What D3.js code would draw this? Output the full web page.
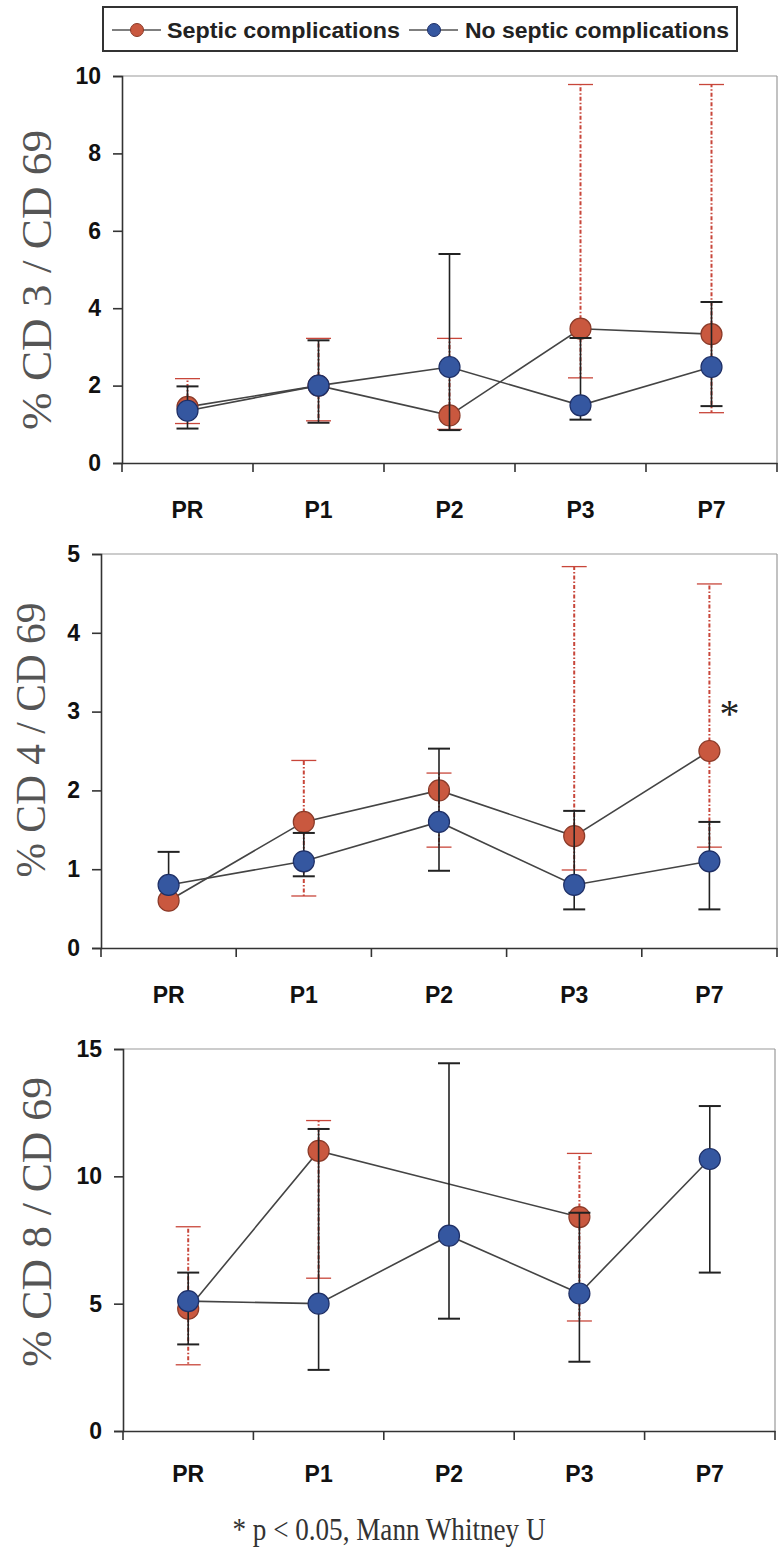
<!DOCTYPE html>
<html>
<head>
<meta charset="utf-8">
<script src="https://cdn.jsdelivr.net/npm/d3@7"></script>
<style>
  html, body { margin: 0; padding: 0; background: #ffffff; }
  svg { display: block; }
</style>
</head>
<body>
<script>
// ---------------- DATA ----------------
const categories = ["PR", "P1", "P2", "P3", "P7"];
const seriesNames = ["Septic complications", "No septic complications"];

// Panel 1: % CD 3 / CD 69
const cd3Ticks = [0, 2, 4, 6, 8, 10];
const cd3Septic     = [1.45, 2.0, 1.23, 3.47, 3.33];
const cd3SepticLow  = [1.02, 1.09, 0.87, 2.2, 1.3];
const cd3SepticHigh = [2.18, 3.22, 3.22, 9.78, 9.78];
const cd3None       = [1.35, 2.0, 2.48, 1.49, 2.48];
const cd3NoneLow    = [0.89, 1.04, 0.85, 1.12, 1.47];
const cd3NoneHigh   = [1.98, 3.17, 5.4, 3.23, 4.16];

// Panel 2: % CD 4 / CD 69
const cd4Ticks = [0, 1, 2, 3, 4, 5];
const cd4Septic     = [0.6, 1.6, 2.0, 1.42, 2.5];
const cd4SepticLow  = [null, 0.66, 1.28, 0.99, 1.28];
const cd4SepticHigh = [null, 2.38, 2.22, 4.84, 4.62];
const cd4None       = [0.8, 1.1, 1.6, 0.8, 1.1];
const cd4NoneLow    = [null, 0.91, 0.98, 0.49, 0.49];
const cd4NoneHigh   = [1.22, 1.46, 2.53, 1.74, 1.6];

// Panel 3: % CD 8 / CD 69
const cd8Ticks = [0, 5, 10, 15];
const cd8Septic     = [4.8, 11.0, null, 8.4, null];
const cd8SepticLow  = [2.6, 6.0, null, 4.32, null];
const cd8SepticHigh = [8.02, 12.19, null, 10.9, null];
const cd8None       = [5.1, 5.0, 7.67, 5.4, 10.68];
const cd8NoneLow    = [3.4, 2.4, 4.41, 2.72, 6.22];
const cd8NoneHigh   = [6.22, 11.86, 14.44, 8.57, 12.76];

const significance = ["", "", "", "", "*"]; // CD4 panel, P7
const footnote = "* p < 0.05, Mann Whitney U";

// ---------------- STYLE ----------------
const W = 778, H = 1547;
const red = "#c9583f", redStroke = "#8a3a28", redBar = "#c8463a";
const blue = "#3557a0", blueStroke = "#1e2f66", blackBar = "#222";
const lineCol = "#444";
const R = 10.5;

const svg = d3.select("body").append("svg")
  .attr("width", W).attr("height", H)
  .attr("viewBox", `0 0 ${W} ${H}`);

// ---------------- LEGEND ----------------
const leg = svg.append("g");
leg.append("rect").attr("x", 103).attr("y", 7).attr("width", 634).attr("height", 44)
  .attr("fill", "#fff").attr("stroke", "#333").attr("stroke-width", 2);
const legItems = [
  { name: seriesNames[0], fill: red, stroke: redStroke, cx: 137, tx: 167, tl: 233 },
  { name: seriesNames[1], fill: blue, stroke: blueStroke, cx: 434, tx: 465, tl: 264 }
];
legItems.forEach(it => {
  leg.append("line").attr("x1", it.cx - 25).attr("x2", it.cx + 24)
    .attr("y1", 30).attr("y2", 30).attr("stroke", "#555").attr("stroke-width", 1.5);
  leg.append("circle").attr("cx", it.cx).attr("cy", 30).attr("r", 6.5)
    .attr("fill", it.fill).attr("stroke", it.stroke).attr("stroke-width", 1);
  leg.append("text").attr("x", it.tx).attr("y", 38)
    .attr("font-family", "Liberation Sans, Arial, sans-serif")
    .attr("font-weight", "bold").attr("font-size", 22).attr("fill", "#222")
    .attr("textLength", it.tl).attr("lengthAdjust", "spacingAndGlyphs")
    .text(it.name);
});

// ---------------- PANELS ----------------
function panel(cfg) {
  const g = svg.append("g");
  const x = d3.scaleBand().domain(categories).range([cfg.x0, cfg.x1]).padding(0);
  const y = d3.scaleLinear().domain([0, cfg.ymax]).range([cfg.yb, cfg.yt]);
  const cx = c => x(c) + x.bandwidth() / 2;

  // frame (top and right)
  g.append("line").attr("x1", cfg.x0).attr("x2", cfg.x1).attr("y1", y(cfg.ymax)).attr("y2", y(cfg.ymax))
    .attr("stroke", "#999").attr("stroke-width", 1.2);
  g.append("line").attr("x1", cfg.x1).attr("x2", cfg.x1).attr("y1", y(cfg.ymax)).attr("y2", y(0))
    .attr("stroke", "#999").attr("stroke-width", 1.2);

  // y axis
  const ya = g.append("g").attr("transform", `translate(${cfg.x0},0)`)
    .call(d3.axisLeft(y).tickValues(cfg.ticks).tickSize(9).tickPadding(12).tickFormat(d3.format("d")));
  ya.select(".domain").attr("stroke", "#333").attr("stroke-width", 1.6);
  ya.selectAll(".tick line").attr("stroke", "#333").attr("stroke-width", 1.6);
  ya.selectAll("text").attr("font-family", "Liberation Sans, Arial, sans-serif")
    .attr("font-weight", "bold").attr("font-size", 23).attr("fill", "#111");

  // x axis: labels at centers
  const xa = g.append("g").attr("transform", `translate(0,${cfg.yb})`)
    .call(d3.axisBottom(x).tickSize(0).tickPadding(cfg.labelPad));
  xa.select(".domain").attr("stroke", "#333").attr("stroke-width", 1.6);
  xa.selectAll("text").attr("font-family", "Liberation Sans, Arial, sans-serif")
    .attr("font-weight", "bold").attr("font-size", 23).attr("fill", "#111");
  // boundary ticks
  const bounds = categories.map(c => x(c)).concat([cfg.x1]);
  g.selectAll(".btick").data(bounds).enter().append("line")
    .attr("x1", d => d).attr("x2", d => d)
    .attr("y1", cfg.yb).attr("y2", cfg.yb + 9)
    .attr("stroke", "#333").attr("stroke-width", 1.6);

  // y label
  g.append("text")
    .attr("transform", `translate(${cfg.lx},${cfg.ly}) rotate(-90)`)
    .attr("text-anchor", "middle").attr("dy", "0.35em")
    .attr("font-family", "Liberation Serif, Times New Roman, serif")
    .attr("font-size", 43).attr("fill", "#555")
    .attr("textLength", cfg.ll).attr("lengthAdjust", "spacingAndGlyphs")
    .text(cfg.label);

  const series = [
    { v: cfg.s, lo: cfg.sLo, hi: cfg.sHi, fill: red, stroke: redStroke, bar: redBar, dash: "4,2,1.5,2", cap: redBar, capW: 1.3, capHalf: 12.5, barW: 2 },
    { v: cfg.n, lo: cfg.nLo, hi: cfg.nHi, fill: blue, stroke: blueStroke, bar: blackBar, dash: null, cap: blackBar, capW: 2, capHalf: 11, barW: 1.6 }
  ];
  const line = d3.line().x(d => cx(d.c)).y(d => y(d.v));

  series.forEach(s => {
    const pts = categories.map((c, i) => ({ c, v: s.v[i], lo: s.lo[i], hi: s.hi[i] }));
    const valid = pts.filter(p => p.v !== null);
    // error bars
    valid.forEach(p => {
      const px = cx(p.c);
      [["hi", p.hi], ["lo", p.lo]].forEach(([k, e]) => {
        if (e === null || e === undefined) return;
        const l = g.append("line").attr("x1", px).attr("x2", px)
          .attr("y1", y(p.v)).attr("y2", y(e))
          .attr("stroke", s.bar).attr("stroke-width", s.barW);
        if (s.dash) l.attr("stroke-dasharray", s.dash);
        g.append("line").attr("x1", px - s.capHalf).attr("x2", px + s.capHalf)
          .attr("y1", y(e)).attr("y2", y(e))
          .attr("stroke", s.cap).attr("stroke-width", s.capW);
      });
    });
    // connecting line (skips missing points)
    g.append("path").datum(valid).attr("d", line)
      .attr("fill", "none").attr("stroke", lineCol).attr("stroke-width", 1.6);
    // markers
    g.selectAll(null).data(valid).enter().append("circle")
      .attr("cx", d => cx(d.c)).attr("cy", d => y(d.v)).attr("r", R)
      .attr("fill", s.fill).attr("stroke", s.stroke).attr("stroke-width", 1.2);
  });

  if (cfg.sig) {
    categories.forEach((c, i) => {
      if (!cfg.sig[i]) return;
      g.append("text").attr("x", cx(c) + 20).attr("y", y(cfg.s[i]) - 24)
        .attr("text-anchor", "middle")
        .attr("font-family", "Liberation Serif, Times New Roman, serif")
        .attr("font-size", 40).attr("fill", "#222")
        .text(cfg.sig[i]);
    });
  }
}

panel({ x0: 122, x1: 777, yt: 76, yb: 463, ymax: 10, ticks: cd3Ticks, labelPad: 39,
  label: "% CD 3 / CD 69", lx: 36, ly: 280, ll: 300,
  s: cd3Septic, sLo: cd3SepticLow, sHi: cd3SepticHigh,
  n: cd3None, nLo: cd3NoneLow, nHi: cd3NoneHigh });

panel({ x0: 101, x1: 777, yt: 554, yb: 948, ymax: 5, ticks: cd4Ticks, labelPad: 39,
  label: "% CD 4 / CD 69", lx: 30, ly: 740, ll: 275,
  s: cd4Septic, sLo: cd4SepticLow, sHi: cd4SepticHigh,
  n: cd4None, nLo: cd4NoneLow, nHi: cd4NoneHigh, sig: significance });

panel({ x0: 123, x1: 775, yt: 1049, yb: 1431, ymax: 15, ticks: cd8Ticks, labelPad: 35,
  label: "% CD 8 / CD 69", lx: 36, ly: 1222, ll: 290,
  s: cd8Septic, sLo: cd8SepticLow, sHi: cd8SepticHigh,
  n: cd8None, nLo: cd8NoneLow, nHi: cd8NoneHigh });

// footnote
svg.append("text").attr("x", 389).attr("y", 1540).attr("text-anchor", "middle")
  .attr("font-family", "Liberation Serif, Times New Roman, serif")
  .attr("font-size", 31).attr("fill", "#333")
  .attr("textLength", 313).attr("lengthAdjust", "spacingAndGlyphs")
  .text(footnote);
</script>
</body>
</html>
